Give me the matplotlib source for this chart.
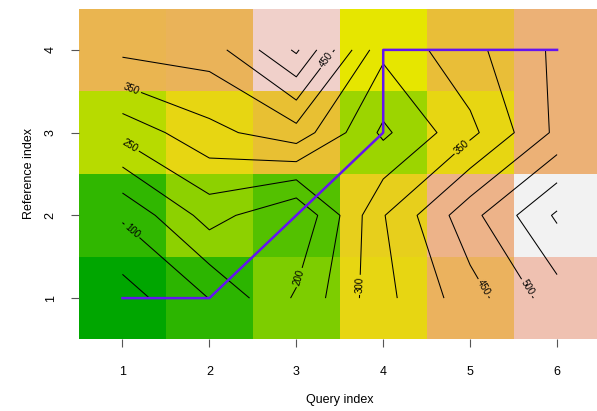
import colorsys

import matplotlib
matplotlib.use('Agg')
import matplotlib.pyplot as plt
import numpy as np
from matplotlib.colors import ListedColormap, Normalize

plt.rcParams['font.family'] = ['Liberation Sans', 'DejaVu Sans']

# cumulative cost matrix, one list per reference index, query index along the list
query_idx = [1, 2, 3, 4, 5, 6]
ref_idx = [1, 2, 3, 4]
cost_ref1 = [27, 101, 207, 335, 428, 527]
cost_ref2 = [107, 221, 152, 347, 483, 608]
cost_ref3 = [266, 335, 380, 240, 337, 461]
cost_ref4 = [413, 423, 558, 312, 385, 460]

# warping path
path_query = [1, 2, 3, 4, 4, 5, 6]
path_ref = [1, 1, 2, 3, 4, 4, 4]

contour_levels = [50, 100, 150, 200, 250, 300, 350, 400, 450, 500, 550, 600]
# where the contour labels sit (data coords), roughly as in the original
label_spots = [(1.10, 1.80), (1.09, 2.84), (1.11, 3.54), (3.36, 3.87),
               (3.03, 1.25), (3.74, 1.16), (4.91, 2.82), (5.16, 1.13),
               (5.66, 1.13)]


def terrain_colors(n):
    # same recipe as R's terrain.colors()
    k = n // 2
    cols = []
    for h, v in zip(np.linspace(4/12, 2/12, k), np.linspace(0.65, 0.9, k)):
        cols.append(colorsys.hsv_to_rgb(h, 1.0, v))
    m = n - k + 1
    for h, s, v in zip(np.linspace(2/12, 0, m)[1:], np.linspace(1, 0, m)[1:],
                       np.linspace(0.9, 0.95, m)[1:]):
        cols.append(colorsys.hsv_to_rgb(h, s, v))
    return ListedColormap(cols)


cost = np.array([cost_ref1, cost_ref2, cost_ref3, cost_ref4], dtype=float)

fig = plt.figure(figsize=(5.97, 4.11), dpi=100)
ax = fig.add_axes([0.1323, 0.174, 0.8736, 0.8053])

ax.pcolormesh(query_idx, ref_idx, cost, shading='nearest', cmap=terrain_colors(100),
              norm=Normalize(vmin=cost.min(), vmax=cost.max()))

cs = ax.contour(query_idx, ref_idx, cost, levels=contour_levels, colors='black',
                linewidths=0.75)
ax.clabel(cs, fmt='%d', fontsize=7, inline=True, inline_spacing=2, manual=label_spots)

ax.plot(path_query, path_ref, color='#6414f0', linewidth=1.8)

ax.set_xlim(0.5, 6.5)
ax.set_ylim(0.5, 4.5)
ax.set_xticks(query_idx)
ax.set_yticks(ref_idx)
for s in ax.spines.values():
    s.set_visible(False)
ax.tick_params(length=6, width=0.8, color='#555555', labelsize=9)
ax.tick_params(axis='x', pad=13)
ax.tick_params(axis='y', pad=10)
plt.setp(ax.get_yticklabels(), rotation=90, va='center')

ax.set_xlabel('Query index', fontsize=9)
ax.set_ylabel('Reference index', fontsize=9)
ax.xaxis.label.set_va('center')
ax.yaxis.label.set_va('center')
ax.xaxis.set_label_coords(0.5, -0.184)
ax.yaxis.set_label_coords(-0.095, 0.5)

plt.savefig('out.png', dpi=100)
plt.close()
